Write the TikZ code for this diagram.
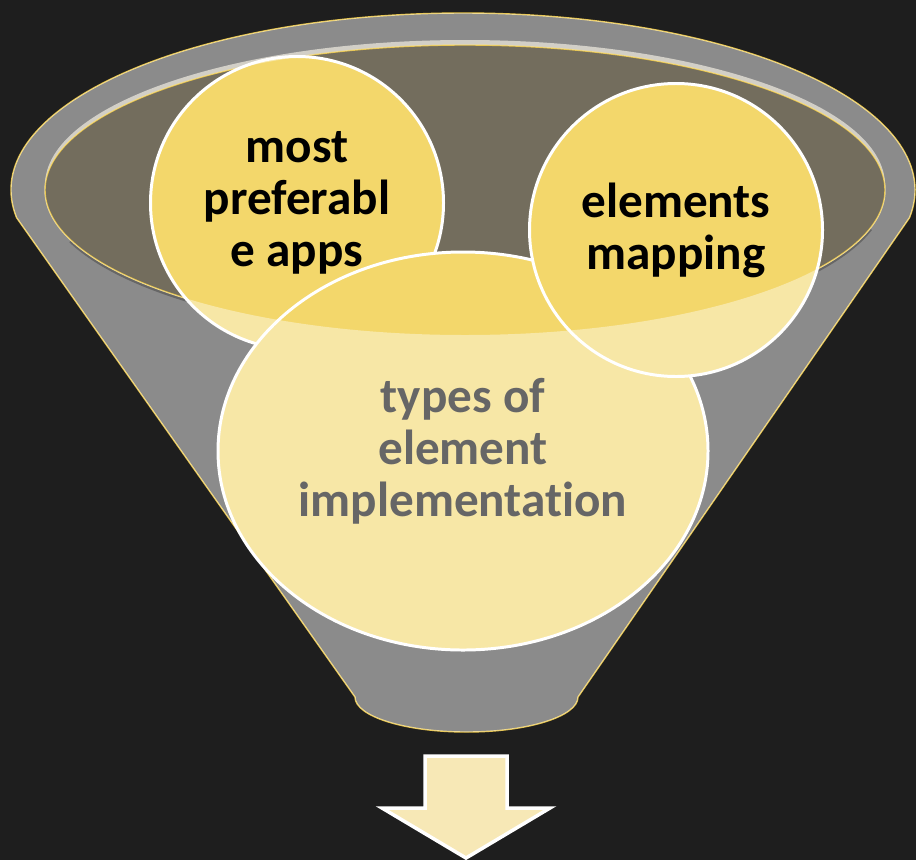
\documentclass[tikz,border=0pt]{standalone}
\usepackage{fontspec}
\setmainfont{Carlito}[Ligatures={NoCommon,NoContextual}]
\usepackage{tikz}
\usetikzlibrary{shapes.geometric, positioning}
\definecolor{boardblack}{HTML}{1E1E1E}
\definecolor{funnelgray}{HTML}{3E3E3E}
\definecolor{mouthbrown}{HTML}{736D5D}
\definecolor{mouthrim}{HTML}{B4AFA2}
\definecolor{rimyellow}{HTML}{E6C34A}
\definecolor{bubbleyellow}{HTML}{F3D76B}
\definecolor{arrowcream}{HTML}{F7E8B6}
\tikzset{
    bubble/.style={
        circle,
        draw=white,
        line width=0.85pt,
        fill=bubbleyellow,
        minimum size=2.93cm,
        inner sep=0pt,
        align=center,
        font=\fontsize{14}{14.8}\selectfont\bfseries
    },
    bigbubble/.style={
        ellipse,
        draw=white,
        line width=0.85pt,
        fill=bubbleyellow,
        minimum width=4.9cm,
        minimum height=3.98cm,
        inner sep=0pt,
        align=center,
        font=\fontsize{14}{14.8}\selectfont\bfseries
    },
    funnelbody/.style={
        fill=funnelgray,
        draw=rimyellow,
        line width=0.4pt
    },
    mouth/.style={
        fill=mouthbrown,
        draw=rimyellow,
        line width=0.4pt
    },
    glaze/.style={
        fill=white,
        fill opacity=0.4,
        even odd rule
    },
    downarrow/.style={
        fill=arrowcream,
        draw=white,
        line width=1pt,
        line join=miter
    }
}

\begin{document}
\begin{tikzpicture}

% Board
\fill[boardblack] (0,0) rectangle (9.16,-8.60);
\useasboundingbox (0,0) rectangle (9.16,-8.60);

% Funnel
\path[funnelbody] (0.166,-2.177) arc[start angle=189, end angle=-9, x radius=4.52cm, y radius=1.77cm]
    -- (5.78,-6.97) arc[start angle=0, end angle=-180, x radius=1.115cm, y radius=0.35cm] -- cycle;
\fill[mouthrim] (4.65,-1.85) ellipse[x radius=4.20cm, y radius=1.45cm];
\draw[black, line width=0.9pt] (4.65,-1.915) ++(200:4.20cm and 1.45cm)
    arc[start angle=200, end angle=345, x radius=4.20cm, y radius=1.45cm];
\path[mouth] (4.65,-1.90) ellipse[x radius=4.20cm, y radius=1.45cm];

% Bubbles
\node[bubble] (apps) at (2.97,-2.03) {most\\preferabl\\e apps};
\node[bigbubble] (types) at (4.63,-4.51) {types of\\element\\implementation};
\node[bubble] (mapping) at (6.76,-2.30) {elements\\mapping};

% Front of funnel
\path[glaze] (0.166,-2.177) arc[start angle=189, end angle=-9, x radius=4.52cm, y radius=1.77cm]
    -- (5.78,-6.97) arc[start angle=0, end angle=-180, x radius=1.115cm, y radius=0.35cm] -- cycle
    (4.65,-1.90) ellipse[x radius=4.20cm, y radius=1.45cm];

% Arrow
\coordinate (shaftnw) at (4.25,-7.56);
\coordinate (tip) at (4.66,-8.58);
\path[downarrow] (shaftnw) -- ++(0.82,0) -- ++(0,-0.52) -- ++(0.43,0) -- (tip)
    -- (3.82,-8.08) -- ++(0.43,0) -- cycle;

\end{tikzpicture}
\end{document}
